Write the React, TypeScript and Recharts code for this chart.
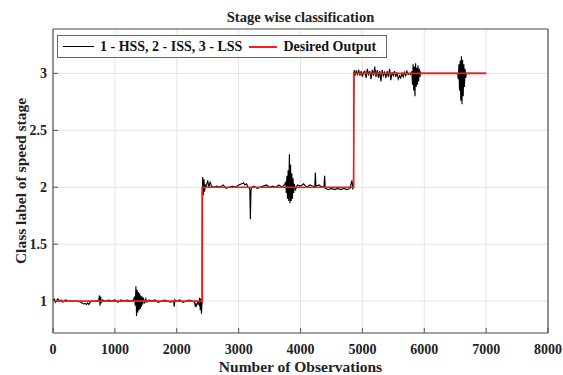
import { LineChart, Line, XAxis, YAxis, CartesianGrid, Legend } from "recharts";

const SERIF = '"Times New Roman", "Liberation Serif", serif';

const xTicks = [0, 1000, 2000, 3000, 4000, 5000, 6000, 7000, 8000];
const yTicks = [1, 1.5, 2, 2.5, 3];

const hssTrace: [number, number][] = [
  [0, 1.01], [20, 1.02], [40, 0.99], [60, 1.01], [80, 1.02], [100, 1.0], [130, 1.01],
  [160, 0.99], [200, 1.01], [250, 1.0], [300, 1.0], [350, 1.0], [400, 1.0], [450, 0.99],
  [480, 0.98], [500, 0.975], [520, 0.98], [540, 0.97], [560, 0.985], [580, 0.97],
  [600, 0.99], [620, 1.0], [650, 1.0], [700, 1.0], [740, 1.01], [750, 1.05], [760, 0.96],
  [770, 1.04], [780, 0.99], [800, 1.01], [850, 1.0], [900, 1.01], [950, 1.0], [1000, 1.01],
  [1050, 0.99], [1100, 1.01], [1150, 1.0], [1200, 1.01], [1250, 1.0], [1300, 1.01],
  [1320, 1.04], [1330, 0.96], [1340, 1.13], [1350, 0.87], [1360, 1.1], [1370, 0.9],
  [1380, 1.08], [1390, 0.92], [1400, 1.07], [1410, 0.93], [1420, 1.05], [1430, 0.95],
  [1440, 1.04], [1450, 0.97], [1460, 1.03], [1480, 0.98], [1500, 1.02], [1520, 0.99],
  [1550, 1.01], [1600, 1.0], [1650, 1.01], [1700, 0.99], [1750, 1.0], [1800, 1.01],
  [1850, 1.0], [1900, 0.99], [1950, 1.0], [1960, 0.95], [1970, 1.01], [1980, 1.0],
  [2000, 1.0], [2050, 1.01], [2100, 0.99], [2150, 1.0], [2200, 1.01], [2250, 1.0],
  [2290, 0.99], [2300, 0.95], [2310, 0.98], [2320, 0.96], [2340, 0.99], [2360, 0.97],
  [2370, 1.03], [2380, 0.92], [2390, 1.02], [2400, 0.89], [2410, 1.01],
];

const issTrace: [number, number][] = [
  [2415, 1.95], [2420, 2.09], [2430, 1.93], [2440, 2.07], [2450, 1.96], [2460, 2.02],
  [2480, 2.01], [2500, 2.06], [2520, 2.0], [2540, 2.05], [2560, 2.01], [2600, 2.0],
  [2650, 2.01], [2700, 2.0], [2750, 2.02], [2800, 1.99], [2850, 2.0], [2900, 2.01],
  [2950, 2.0], [3000, 2.02], [3050, 2.03], [3080, 2.04], [3100, 2.02], [3130, 2.03],
  [3150, 2.0], [3180, 1.99], [3190, 1.72], [3200, 1.98], [3220, 2.0], [3250, 2.01],
  [3300, 1.99], [3350, 2.0], [3400, 2.01], [3450, 2.02], [3500, 2.0], [3550, 2.01],
  [3600, 2.0], [3650, 2.02], [3700, 2.0], [3740, 2.02], [3760, 2.05], [3770, 1.95],
  [3780, 2.1], [3790, 1.9], [3800, 2.15], [3810, 1.88], [3820, 2.29], [3830, 1.86],
  [3840, 2.2], [3850, 1.88], [3860, 2.12], [3870, 1.9], [3880, 2.08], [3890, 1.95],
  [3900, 2.03], [3920, 1.98], [3950, 2.02], [4000, 2.01], [4050, 2.03], [4100, 2.0],
  [4150, 2.02], [4200, 2.01], [4230, 2.0], [4240, 2.13], [4250, 2.01], [4300, 2.02],
  [4350, 2.0], [4380, 2.01], [4390, 2.1], [4400, 1.99], [4450, 1.98], [4500, 1.99],
  [4550, 1.98], [4600, 1.99], [4650, 1.98], [4700, 1.99], [4750, 1.98], [4800, 1.99],
  [4830, 2.06], [4845, 1.98], [4855, 2.03],
];

const lssTrace: [number, number][] = [
  [4865, 3.0], [4870, 3.03], [4880, 2.98], [4900, 3.02], [4920, 2.99], [4940, 3.03],
  [4960, 2.98], [4980, 3.02], [5000, 2.97], [5020, 3.01], [5040, 3.02], [5060, 2.96],
  [5080, 3.04], [5100, 2.99], [5120, 3.02], [5140, 2.95], [5160, 3.03], [5180, 2.98],
  [5200, 3.06], [5220, 2.97], [5240, 3.03], [5260, 2.96], [5280, 3.02], [5300, 2.93],
  [5320, 3.03], [5340, 2.98], [5360, 3.01], [5380, 2.96], [5400, 3.02], [5420, 2.97],
  [5440, 3.04], [5460, 2.94], [5480, 3.01], [5500, 2.98], [5520, 3.02], [5540, 2.97],
  [5560, 3.01], [5580, 2.95], [5600, 2.98], [5620, 2.96], [5640, 3.0], [5660, 2.97],
  [5680, 3.01], [5700, 2.98], [5720, 3.02], [5740, 2.99], [5760, 3.0], [5780, 2.99],
  [5800, 3.02], [5810, 2.9], [5820, 3.08], [5830, 2.85], [5840, 3.06], [5850, 2.8],
  [5860, 3.09], [5870, 2.88], [5880, 3.05], [5890, 2.9], [5900, 3.07], [5910, 2.93],
  [5920, 3.04], [5930, 2.97], [5940, 3.01], [5950, 3.0], [6540, 3.0], [6550, 2.95],
  [6560, 3.08], [6570, 2.85], [6580, 3.11], [6590, 2.76], [6600, 3.15], [6610, 2.73],
  [6620, 3.12], [6630, 2.8], [6640, 3.08], [6650, 2.88], [6660, 3.04], [6670, 2.96],
  [6680, 3.0], [7000, 3.0],
];

// ideal stage labels (step changes)
const desiredX = [0, 2410, 4860, 7000];
const desiredY = [1, 2, 3, 3];

const observed = [...hssTrace, ...issTrace, ...lssTrace].map(([x, y]) => ({ x, y }));
const desired = desiredX.map((x, i) => ({ x, y: desiredY[i] }));

const tickStyle = { fill: "#222", fontSize: 14, fontWeight: 700, fontFamily: SERIF };
const labelStyle = { fill: "#222", fontSize: 15.5, fontWeight: 700, fontFamily: SERIF };

function LegendBox({ payload }: any) {
  return (
    <div
      style={{
        boxSizing: "border-box",
        width: 330,
        height: 23,
        border: "1px solid #666",
        background: "#fff",
        display: "flex",
        alignItems: "center",
        paddingLeft: 5,
        fontFamily: SERIF,
        fontWeight: 700,
        fontSize: 14,
        color: "#111",
        whiteSpace: "nowrap",
      }}
    >
      {(payload ?? []).map((entry: any, i: number) => (
        <span key={i} style={{ display: "flex", alignItems: "center", marginRight: 7 }}>
          <span
            style={{
              display: "inline-block",
              width: i === 0 ? 31 : 28,
              borderTop: `${i === 0 ? 1 : 2}px solid ${entry.color}`,
              marginRight: 6,
            }}
          />
          {entry.value}
        </span>
      ))}
    </div>
  );
}

export default function App() {
  return (
    <div style={{ position: "absolute", left: 0, top: 0, background: "#fff" }}>
      <LineChart width={563} height={375} margin={{ top: 29, right: 15, bottom: 0, left: 0 }}>
        <CartesianGrid stroke="#e4e4e4" />
        <XAxis
          dataKey="x"
          type="number"
          domain={[0, 8000]}
          ticks={xTicks}
          height={42}
          allowDataOverflow
          tickSize={-5}
          tickMargin={16}
          tick={tickStyle}
          tickLine={{ stroke: "#555" }}
          axisLine={{ stroke: "#555", strokeWidth: 1.2 }}
          label={{ value: "Number of Observations", position: "insideBottom", offset: 3, ...labelStyle }}
        />
        <XAxis
          xAxisId="top"
          dataKey="x"
          orientation="top"
          type="number"
          domain={[0, 8000]}
          ticks={xTicks}
          height={1}
          allowDataOverflow
          mirror
          tick={false}
          tickSize={5}
          tickLine={{ stroke: "#555" }}
          axisLine={{ stroke: "#555", strokeWidth: 1.2 }}
          label={{ value: "Stage wise classification", position: "top", offset: 7, ...labelStyle, fontSize: 14.5 }}
        />
        <YAxis
          type="number"
          domain={[0.72, 3.39]}
          ticks={yTicks}
          width={53}
          allowDataOverflow
          tickSize={-5}
          tickMargin={11}
          tick={tickStyle}
          tickLine={{ stroke: "#555" }}
          axisLine={{ stroke: "#555", strokeWidth: 1.2 }}
          label={{
            value: "Class label of speed stage",
            angle: -90,
            position: "insideLeft",
            offset: 20,
            ...labelStyle,
            style: { textAnchor: "middle" },
          }}
        />
        <YAxis
          yAxisId="right"
          orientation="right"
          type="number"
          domain={[0.72, 3.39]}
          ticks={yTicks}
          width={1}
          allowDataOverflow
          mirror
          tick={false}
          tickSize={5}
          tickLine={{ stroke: "#555" }}
          axisLine={{ stroke: "#555", strokeWidth: 1.2 }}
        />
        <Legend
          layout="horizontal"
          verticalAlign="middle"
          align="center"
          wrapperStyle={{ left: 57, top: 35, width: 330, height: 23 }}
          content={LegendBox}
        />
        <Line
          data={observed}
          dataKey="y"
          name="1 - HSS, 2 - ISS, 3 - LSS"
          type="linear"
          stroke="#000"
          strokeWidth={1.1}
          dot={false}
          isAnimationActive={false}
        />
        {/* same domains as the bottom/left axes, bound here so the frame axes render */}
        <Line
          data={desired}
          dataKey="y"
          xAxisId="top"
          yAxisId="right"
          name="Desired Output"
          type="stepAfter"
          stroke="#ff1a1a"
          strokeWidth={1.6}
          dot={false}
          isAnimationActive={false}
        />
      </LineChart>
    </div>
  );
}
